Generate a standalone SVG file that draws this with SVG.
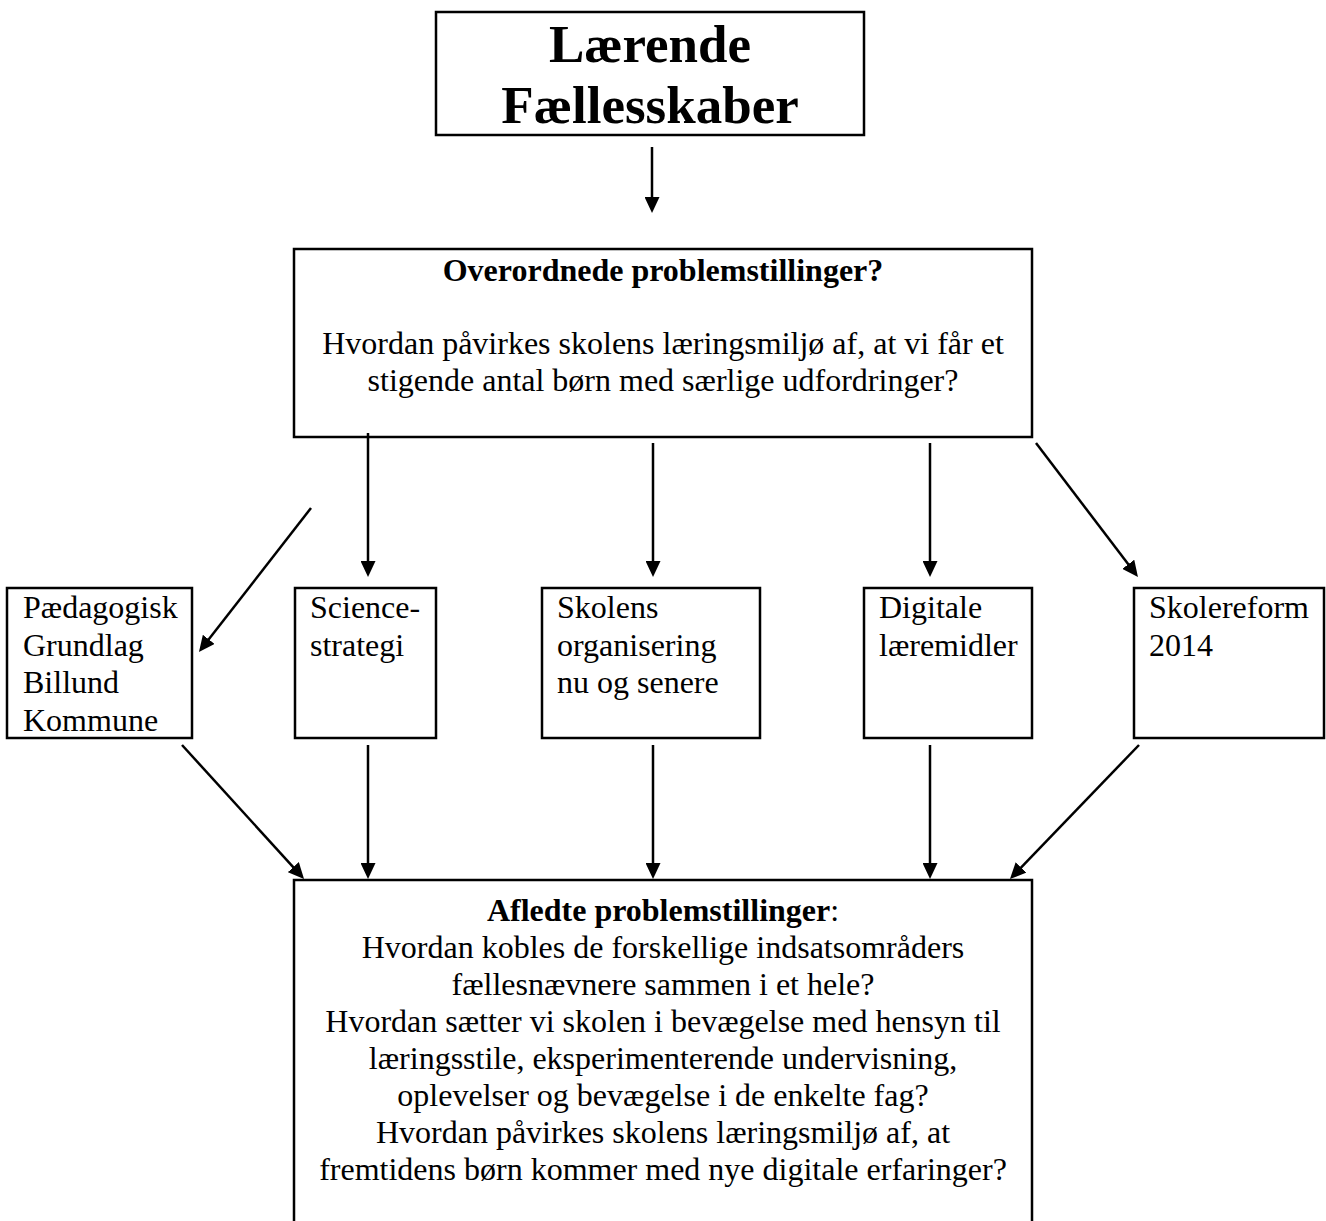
<svg xmlns="http://www.w3.org/2000/svg" width="1326" height="1221" viewBox="0 0 1326 1221">
<style>
.box{fill:#fff;stroke:#000;stroke-width:2.5}
text{font-family:"Liberation Serif","Times New Roman",serif;fill:#000;font-size:32px}
.c{text-anchor:middle}
.b{font-weight:bold}
.title{font-size:53px;font-weight:bold}
.conn line{stroke:#000;stroke-width:2.5;marker-end:url(#ah)}
</style>
<defs>
<marker id="ah" markerUnits="userSpaceOnUse" markerWidth="16" markerHeight="15" refX="6" refY="7.5" orient="auto" viewBox="0 0 16 15">
<path d="M0,0 L16,7.5 L0,15 z" fill="#000"/>
</marker>
</defs>
<rect width="1326" height="1221" fill="#fff"/>
<g id="laerende">
<rect class="box" x="436" y="12" width="428" height="123"/>
<text class="title c" x="650" y="62">Lærende</text>
<text class="title c" x="650" y="123">Fællesskaber</text>
</g>
<g id="overordnede">
<rect class="box" x="294" y="249" width="738" height="188"/>
<text class="c b" x="663" y="281">Overordnede problemstillinger?</text>
<text class="c" x="663" y="354">Hvordan påvirkes skolens læringsmiljø af, at vi får et</text>
<text class="c" x="663" y="391">stigende antal børn med særlige udfordringer?</text>
</g>
<g id="paedagogisk">
<rect class="box" x="7" y="588" width="185" height="150"/>
<text x="23" y="618">Pædagogisk</text>
<text x="23" y="655.5">Grundlag</text>
<text x="23" y="693">Billund</text>
<text x="23" y="730.5">Kommune</text>
</g>
<g id="science">
<rect class="box" x="295" y="588" width="141" height="150"/>
<text x="310" y="618">Science-</text>
<text x="310" y="655.5">strategi</text>
</g>
<g id="skolens">
<rect class="box" x="542" y="588" width="218" height="150"/>
<text x="557" y="618">Skolens</text>
<text x="557" y="655.5">organisering</text>
<text x="557" y="693">nu og senere</text>
</g>
<g id="digitale">
<rect class="box" x="864" y="588" width="168" height="150"/>
<text x="879" y="618">Digitale</text>
<text x="879" y="655.5">læremidler</text>
</g>
<g id="skolereform">
<rect class="box" x="1134" y="588" width="190" height="150"/>
<text x="1149" y="618">Skolereform</text>
<text x="1149" y="655.5">2014</text>
</g>
<g id="afledte">
<rect class="box" x="294" y="880" width="738" height="360"/>
<text class="c" x="663" y="921"><tspan class="b">Afledte problemstillinger</tspan>:</text>
<text class="c" x="663" y="958">Hvordan kobles de forskellige indsatsområders</text>
<text class="c" x="663" y="995">fællesnævnere sammen i et hele?</text>
<text class="c" x="663" y="1032">Hvordan sætter vi skolen i bevægelse med hensyn til</text>
<text class="c" x="663" y="1069">læringsstile, eksperimenterende undervisning,</text>
<text class="c" x="663" y="1106">oplevelser og bevægelse i de enkelte fag?</text>
<text class="c" x="663" y="1143">Hvordan påvirkes skolens læringsmiljø af, at</text>
<text class="c" x="663" y="1180">fremtidens børn kommer med nye digitale erfaringer?</text>
</g>
<g id="connectors" class="conn">
<line x1="652" y1="147" x2="652" y2="203"/>
<line x1="311" y1="508" x2="205.1" y2="644.1"/>
<line x1="368" y1="433" x2="368" y2="567"/>
<line x1="653" y1="443" x2="653" y2="567"/>
<line x1="930" y1="443" x2="930" y2="567"/>
<line x1="1036" y1="443" x2="1131.9" y2="569"/>
<line x1="182" y1="745" x2="297.3" y2="871.6"/>
<line x1="368" y1="745" x2="368" y2="869"/>
<line x1="653" y1="745" x2="653" y2="869"/>
<line x1="930" y1="745" x2="930" y2="869"/>
<line x1="1139" y1="745" x2="1016.9" y2="871.8"/>
</g>
</svg>
